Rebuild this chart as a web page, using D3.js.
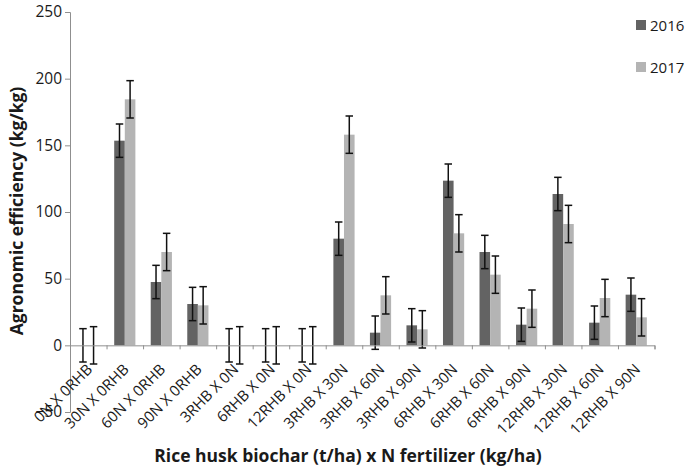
<!DOCTYPE html>
<html>
<head>
<meta charset="utf-8">
<script src="https://cdn.jsdelivr.net/npm/d3@7"></script>
<style>
  body { margin: 0; background: #fff; }
  text { font-family: "Open Sans", sans-serif; fill: #1a1a1a; }
</style>
</head>
<body>
<svg id="chart"></svg>
<script>
const categories = ["0N X 0RHB", "30N X 0RHB", "60N X 0RHB", "90N X 0RHB", "3RHB X 0N", "6RHB X 0N",
    "12RHB X 0N", "3RHB X 30N", "3RHB X 60N", "3RHB X 90N", "6RHB X 30N", "6RHB X 60N",
    "6RHB X 90N", "12RHB X 30N", "12RHB X 60N", "12RHB X 90N"];
const years = ["2016", "2017"];
const values2016 = [0, 153.5, 47.5, 31, 0, 0, 0, 80, 9.5, 15, 123.5, 70, 15.5, 113.5, 17, 38];
const values2017 = [0, 184.5, 70, 30, 0, 0, 0, 158, 37.5, 12, 84, 53, 27.5, 91, 35.5, 21];
const err2016 = [12.5, 12.5, 12.5, 12.5, 12.5, 12.5, 12.5, 12.5, 12.5, 12.5, 12.5, 12.5, 12.5, 12.5, 12.5, 12.5];
const err2017 = [14, 14, 14, 14, 14, 14, 14, 14, 14, 14, 14, 14, 14, 14, 14, 14];
const yTicks = [-50, 0, 50, 100, 150, 200, 250];

const colors = { "2016": "#636363", "2017": "#b4b4b4" };
const axisColor = "#8f8f8f";

const W = 685, H = 470;
const plot = { left: 70, right: 654.5, top: 12, bottom: 412 };

const svg = d3.select("#chart")
    .attr("width", W)
    .attr("height", H);

const y = d3.scaleLinear()
    .domain([-50, 250])
    .range([plot.bottom, plot.top]);

const x0 = d3.scaleBand()
    .domain(categories)
    .range([plot.left, plot.right])
    .padding(0);

const x1 = d3.scaleBand()
    .domain(years)
    .range([x0.bandwidth() * 0.21, x0.bandwidth() * 0.79])
    .padding(0);

// boundary ticks for the category axis
const xEdge = d3.scaleLinear()
    .domain([0, categories.length])
    .range([plot.left, plot.right]);

const rows = categories.map((c, i) => ({
    cat: c,
    vals: [
        { year: "2016", v: values2016[i], e: err2016[i] },
        { year: "2017", v: values2017[i], e: err2017[i] }
    ]
}));

// y axis
const yAxis = svg.append("g")
    .attr("transform", `translate(${plot.left},0)`)
    .call(d3.axisLeft(y).tickValues(yTicks).tickSize(5).tickPadding(3));
yAxis.select(".domain").attr("stroke", axisColor);
yAxis.selectAll(".tick line").attr("stroke", axisColor);
yAxis.selectAll(".tick text")
    .style("font-size", "15.5px")
    .attr("fill", "#1a1a1a");

// bars
const groups = svg.append("g")
    .selectAll("g")
    .data(rows)
    .join("g")
    .attr("transform", d => `translate(${x0(d.cat)},0)`);

groups.selectAll("rect")
    .data(d => d.vals)
    .join("rect")
    .attr("x", d => x1(d.year))
    .attr("width", x1.bandwidth())
    .attr("y", d => y(Math.max(0, d.v)))
    .attr("height", d => Math.abs(y(d.v) - y(0)))
    .attr("fill", d => colors[d.year]);

// x axis line and ticks at y = 0
const xAxis = svg.append("g")
    .attr("transform", `translate(0,${y(0)})`)
    .call(d3.axisBottom(xEdge).tickValues(d3.range(categories.length + 1)).tickSize(4).tickFormat(""));
xAxis.select(".domain").attr("stroke", axisColor);
xAxis.selectAll(".tick line").attr("stroke", axisColor);

// error bars
const capW = 7.5;
const eb = groups.selectAll(".err")
    .data(d => d.vals)
    .join("g")
    .attr("class", "err")
    .attr("transform", d => `translate(${x1(d.year) + x1.bandwidth() / 2},0)`);
eb.append("line")
    .attr("y1", d => y(d.v - d.e))
    .attr("y2", d => y(d.v + d.e))
    .attr("stroke", "#111").attr("stroke-width", 1.5);
eb.append("line")
    .attr("x1", -capW / 2).attr("x2", capW / 2)
    .attr("y1", d => y(d.v + d.e)).attr("y2", d => y(d.v + d.e))
    .attr("stroke", "#111").attr("stroke-width", 1.5);
eb.append("line")
    .attr("x1", -capW / 2).attr("x2", capW / 2)
    .attr("y1", d => y(d.v - d.e)).attr("y2", d => y(d.v - d.e))
    .attr("stroke", "#111").attr("stroke-width", 1.5);

// category labels, rotated
svg.append("g")
    .selectAll("text")
    .data(categories)
    .join("text")
    .attr("transform", d => `translate(${x0(d) + x0.bandwidth() / 2 + 5},${y(0) + 25}) rotate(-45)`)
    .attr("text-anchor", "end")
    .style("font-size", "15px")
    .text(d => d);

// axis titles
svg.append("text")
    .attr("transform", `translate(23,${211}) rotate(-90)`)
    .attr("text-anchor", "middle")
    .style("font-size", "17.5px")
    .style("font-weight", "bold")
    .text("Agronomic efficiency (kg/kg)");

svg.append("text")
    .attr("x", 348)
    .attr("y", 462)
    .attr("text-anchor", "middle")
    .style("font-size", "17.5px")
    .style("font-weight", "bold")
    .text("Rice husk biochar (t/ha) x N fertilizer (kg/ha)");

// legend
const legend = svg.append("g")
    .selectAll("g")
    .data(years)
    .join("g")
    .attr("transform", (d, i) => `translate(636,${20 + i * 42})`);
legend.append("rect")
    .attr("width", 10).attr("height", 10)
    .attr("fill", d => colors[d]);
legend.append("text")
    .attr("x", 14).attr("y", 10.5)
    .style("font-size", "15px")
    .text(d => d);
</script>
</body>
</html>
